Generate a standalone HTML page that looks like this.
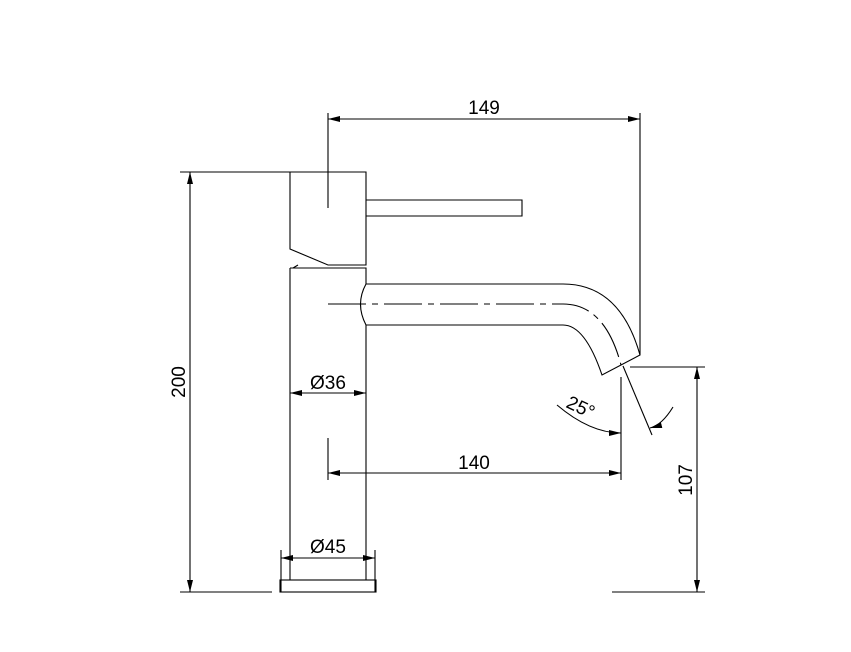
<!DOCTYPE html>
<html><head><meta charset="utf-8"><style>body{margin:0;background:#fff}</style></head><body>
<svg width="851" height="647" viewBox="0 0 851 647" xmlns="http://www.w3.org/2000/svg" font-family="Liberation Sans, sans-serif">
<defs>
<marker id="a" viewBox="0 0 12 6" refX="12" refY="3" markerWidth="12" markerHeight="6" orient="auto-start-reverse" markerUnits="userSpaceOnUse"><path d="M0,0L12,3L0,6z" fill="#000"/></marker>
</defs>
<g fill="none" stroke="#000" stroke-width="1.1">
<path d="M290,172 H366 V265 H328 L290,249 Z"/>
<path d="M366,200 H522 V216 H366"/>
<path d="M298,265 L293,268"/>
<path d="M290,268 H366 V284 M366,325 V580 M290,268 V580"/>
<path d="M366,284 Q355,304 366,325"/>
<path d="M366,284 H563 Q620,284 640,355 L602,375 Q585,325 563,325 H366"/>
<path d="M328,304 H563 Q605,304 621,365" stroke-dasharray="38,6,6,6"/>
<rect x="280" y="580" width="96" height="12"/>
<path d="M328,113 V208 M640,113 V355"/>
<path d="M328,119 H640" marker-start="url(#a)" marker-end="url(#a)"/>
<path d="M180,172 H290 M180,592 H272"/>
<path d="M190,172 V592" marker-start="url(#a)" marker-end="url(#a)"/>
<path d="M630,367 H705 M612,592 H705"/>
<path d="M697,367 V592" marker-start="url(#a)" marker-end="url(#a)"/>
<path d="M328,438 V480 M621,377 V480"/>
<path d="M328,473 H621" marker-start="url(#a)" marker-end="url(#a)"/>
<path d="M290,393 H366" marker-start="url(#a)" marker-end="url(#a)"/>
<path d="M281,550 V592 M375,550 V592"/>
<path d="M281,558 H375" marker-start="url(#a)" marker-end="url(#a)"/>
<path d="M623,366 L652,435"/>
<path d="M557,405 Q590,433 621,433" marker-end="url(#a)"/>
<path d="M673,407 Q662,425 650,428" marker-end="url(#a)"/>
</g>
<g font-size="19" fill="#000">
<text x="484" y="114" text-anchor="middle">149</text>
<text x="474" y="469" text-anchor="middle">140</text>
<text x="328" y="389" text-anchor="middle">Ø36</text>
<text x="328" y="553" text-anchor="middle">Ø45</text>
<text transform="translate(185,382) rotate(-90)" text-anchor="middle">200</text>
<text transform="translate(692,480) rotate(-90)" text-anchor="middle">107</text>
<text transform="translate(578,413) rotate(25)" text-anchor="middle">25°</text>
</g>
</svg>
</body></html>
